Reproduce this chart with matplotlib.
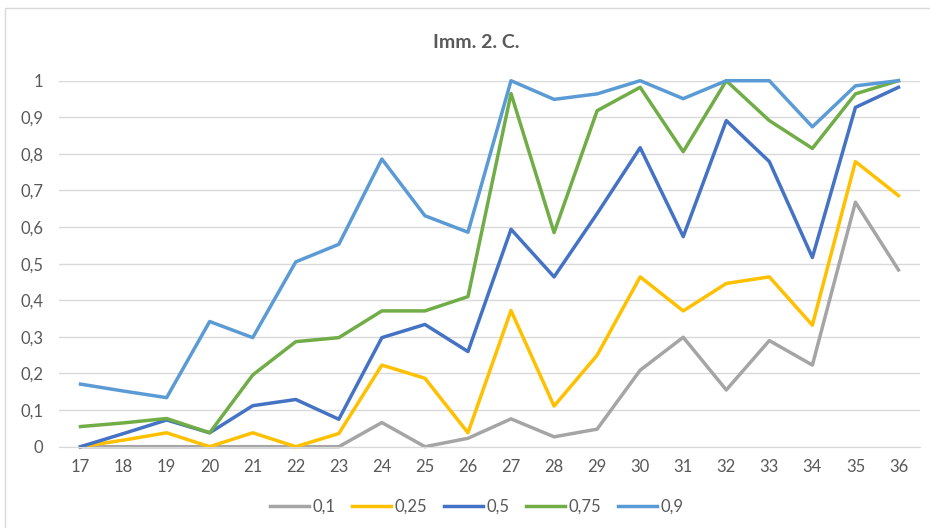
import numpy as np
import matplotlib
matplotlib.use("Agg")
import matplotlib.pyplot as plt
from matplotlib.patches import Rectangle
from matplotlib.ticker import FuncFormatter

plt.rcParams['font.family'] = ['Lato', 'DejaVu Sans']

ages = list(range(17, 37))
series_names = ['0,1', '0,25', '0,5', '0,75', '0,9']
q10 = [0, 0, 0, 0, 0, 0, 0, 0.066, 0, 0.023, 0.076, 0.027, 0.048, 0.209, 0.299, 0.155, 0.290, 0.223, 0.668, 0.483]
q25 = [0, 0.018, 0.038, 0, 0.038, 0, 0.036, 0.223, 0.187, 0.038, 0.372, 0.111, 0.250, 0.464, 0.371, 0.446, 0.464, 0.332, 0.779, 0.686]
q50 = [0, 0.036, 0.073, 0.038, 0.112, 0.129, 0.075, 0.298, 0.334, 0.260, 0.594, 0.464, 0.637, 0.817, 0.574, 0.891, 0.779, 0.517, 0.927, 0.982]
q75 = [0.055, 0.065, 0.077, 0.038, 0.196, 0.287, 0.298, 0.371, 0.371, 0.410, 0.965, 0.585, 0.918, 0.982, 0.806, 1.0, 0.891, 0.815, 0.964, 1.0]
q90 = [0.171, 0.152, 0.134, 0.342, 0.298, 0.505, 0.553, 0.786, 0.631, 0.586, 1.0, 0.949, 0.964, 1.0, 0.951, 1.0, 1.0, 0.874, 0.986, 1.0]
colors = ['#A5A5A5', '#FFC000', '#4472C4', '#70AD47', '#5B9BD5']

fig = plt.figure(figsize=(9.3, 5.28), dpi=100)
# chart frame like the spreadsheet
fig.patches.append(Rectangle((5 / 930, -0.01), 1.0, 1 - 8 / 528 + 0.01, transform=fig.transFigure,
                             fill=False, edgecolor='#d9d9d9', linewidth=1))

ax = fig.add_axes([59 / 930, 1 - 446.7 / 528, (920 - 59) / 930, (446.7 - 80.7) / 528])
for vals, name, c in zip([q10, q25, q50, q75, q90], series_names, colors):
    ax.plot(ages, vals, color=c, linewidth=2.5, label=name, clip_on=False, solid_joinstyle='round')

ax.set_xlim(16.5, 36.5)
ax.set_ylim(0, 1)
ax.set_yticks(np.arange(0, 1.01, 0.1))
ax.set_xticks(ages)
ax.yaxis.set_major_formatter(FuncFormatter(lambda v, p: ('%g' % round(v, 1)).replace('.', ',')))
ax.grid(axis='y', color='#d9d9d9', linewidth=1)
ax.set_axisbelow(True)
for s in ['top', 'right', 'left']:
    ax.spines[s].set_visible(False)
ax.spines['bottom'].set_color('#d9d9d9')
ax.tick_params(length=0, labelsize=12, labelcolor='#595959')
ax.tick_params(axis='x', pad=9)
ax.tick_params(axis='y', pad=11.5)

fig.text(476 / 930, 1 - 43 / 528, 'Imm. 2. C.', ha='center', va='center', fontsize=14,
         fontweight='bold', color='#595959')

fig.legend(loc='center', bbox_to_anchor=(477 / 930, 1 - 507 / 528), ncol=5, frameon=False,
           fontsize=12, handlelength=2.3, handletextpad=0.25, columnspacing=1.0,
           labelcolor='#595959')

fig.savefig('out.png', dpi=100)
